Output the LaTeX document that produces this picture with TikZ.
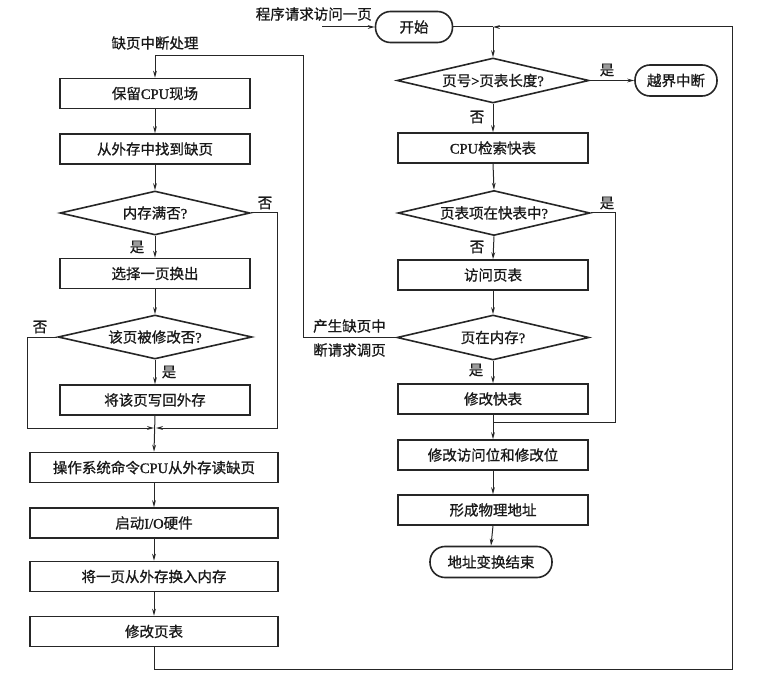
\documentclass[tikz,border=0pt]{standalone}
\usepackage{fontspec}
\setmainfont{Liberation Serif}[RawFeature={embolden=1.2}]
\newfontfamily\cjk{Noto Sans CJK SC}[RawFeature={embolden=0.9}]
\usetikzlibrary{shapes.geometric,arrows.meta}
\newcommand\lat[1]{{\rmfamily #1}}

\tikzset{
  txt/.style={font=\cjk\fontsize{14.5}{17}\selectfont, text=black!90},
  procbox/.style={txt, draw=black!85, line width=1.6pt, rectangle, inner sep=0pt,
    minimum width=190pt, minimum height=30pt},
  widebox/.style={procbox, minimum width=248pt},
  decision/.style={txt, draw=black!85, line width=1.6pt, diamond, aspect=4.2, inner sep=0pt,
    minimum width=192pt, minimum height=45pt},
  terminal/.style={txt, draw=black!85, line width=1.6pt, rectangle, rounded corners=15pt,
    inner sep=0pt, minimum height=31pt},
  link/.style={draw=black!85, line width=1pt},
  flow/.style={link, -{Stealth[length=7pt,width=3.8pt]}},
  lbl/.style={txt, inner sep=0pt}
}

\begin{document}
\begin{tikzpicture}[x=1pt,y=-1pt]
\useasboundingbox (0,0) rectangle (758,687);

% ---------- address translation (right column) ----------
\node[terminal, minimum width=77pt] (start) at (414,27) {开始};
\node[lbl, anchor=east] (req) at (372,14) {程序请求访问一页};
\coordinate (entry) at (322,27);
\coordinate (j1) at (493,27);

\node[decision] (d1) at (493,80.5) {页号\lat{>}页表长度\lat{?}};
\node[terminal, minimum width=82pt] (out) at (676,80.5) {越界中断};
\node[procbox] (tlb) at (493,148) {\lat{CPU}检索快表};
\node[decision] (d2) at (494,213) {页表项在快表中\lat{?}};
\node[procbox] (pt) at (493,275) {访问页表};
\node[decision] (d3) at (493,337.5) {页在内存\lat{?}};
\node[procbox] (mtlb) at (493,399) {修改快表};
\node[procbox] (mbits) at (493,455) {修改访问位和修改位};
\node[procbox] (phys) at (493,510) {形成物理地址};
\node[terminal, minimum width=122pt] (fin) at (491,562) {地址变换结束};

\coordinate (hitr) at (615,213);
\coordinate (hitm) at (615,422);
\coordinate (merge) at (493,422);
\coordinate (rt) at (732,27);
\coordinate (rb) at (732,669);
\coordinate (faultb) at (303,337.5);
\coordinate (faultt) at (303,56);
\coordinate (lt) at (155,56);

% ---------- page fault handling (left column) ----------
\node[lbl] (pfh) at (155,43) {缺页中断处理};
\node[procbox] (save) at (155,93.5) {保留\lat{CPU}现场};
\node[procbox] (find) at (155,149) {从外存中找到缺页};
\node[decision, minimum width=190pt, minimum height=44pt] (full) at (155,213) {内存满否\lat{?}};
\node[procbox] (sel) at (155,273.5) {选择一页换出};
\node[decision, minimum width=194pt, minimum height=44pt] (mod) at (155,337) {该页被修改否\lat{?}};
\node[procbox] (wb) at (155,400) {将该页写回外存};
\node[widebox] (os) at (154,467.5) {操作系统命令\lat{CPU}从外存读缺页};
\node[widebox] (io) at (154,523) {启动\lat{I/O}硬件};
\node[widebox] (swap) at (154,576.5) {将一页从外存换入内存};
\node[widebox] (upd) at (154,631.5) {修改页表};

\coordinate (fullr) at (277,213);
\coordinate (fullb) at (277,428);
\coordinate (modl) at (27,337);
\coordinate (modb) at (27,428);
\coordinate (joinl) at (155,428);

% ---------- connectors: right column ----------
\draw[flow] (entry) -- (start.west);
\draw[link] (start.east) -- (j1);
\draw[flow] (j1) -- (d1.north);
\draw[flow] (d1.east) -- (out.west);
\draw[flow] (d1.south) -- (tlb.north);
\draw[flow] (tlb.south) -- (d2.north);
\draw[flow] (d2.south) -- (pt.north);
\draw[link] (d2.east) -- (hitr) -- (hitm) -- (merge);
\draw[flow] (pt.south) -- (d3.north);
\draw[flow] (d3.south) -- (mtlb.north);
\draw[flow] (mtlb.south) -- (mbits.north);
\draw[flow] (mbits.south) -- (phys.north);
\draw[flow] (phys.south) -- (fin.north);
\draw[flow] (d3.west) -- (faultb) -- (faultt) -- (lt) -- (save.north);

% ---------- connectors: left column ----------
\draw[flow] (save.south) -- (find.north);
\draw[flow] (find.south) -- (full.north);
\draw[flow] (full.south) -- (sel.north);
\draw[flow] (sel.south) -- (mod.north);
\draw[flow] (mod.south) -- (wb.north);
\draw[flow] (wb.south) -- (os.north);
\draw[flow, shorten >=1pt] (full.east) -- (fullr) -- (fullb) -- (joinl);
\draw[flow, shorten >=1pt] (mod.west) -- (modl) -- (modb) -- (joinl);
\draw[flow] (os.south) -- (io.north);
\draw[flow] (io.south) -- (swap.north);
\draw[flow] (swap.south) -- (upd.north);
\draw[flow] (upd.south) |- (rb) -- (rt) -- (j1);

% ---------- branch labels ----------
\node[lbl] (y1) at (607,70) {是};
\node[lbl] (n1) at (477,117) {否};
\node[lbl] (y2) at (607,203) {是};
\node[lbl] (n2) at (477,247) {否};
\node[lbl] (y3) at (476,370) {是};
\node[lbl, anchor=west] (n3a) at (313,326) {产生缺页中};
\node[lbl, anchor=west] (n3b) at (313,350) {断请求调页};
\node[lbl] (n4) at (265,203) {否};
\node[lbl] (y4) at (137,247) {是};
\node[lbl] (n5) at (40,327) {否};
\node[lbl] (y5) at (169,372) {是};
\end{tikzpicture}
\end{document}
